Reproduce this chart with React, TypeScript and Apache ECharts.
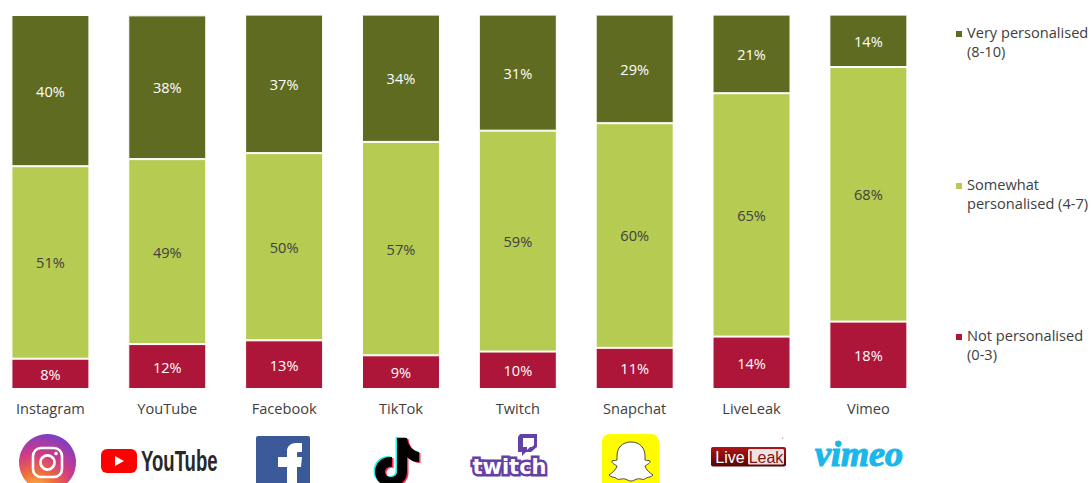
import React, { useEffect, useRef } from "react";
import * as echarts from "echarts";

const categories = ["Instagram", "YouTube", "Facebook", "TikTok", "Twitch", "Snapchat", "LiveLeak", "Vimeo"];
const notPersonalised = [8.1, 12, 13, 9, 10, 11, 14, 18];
const somewhatPersonalised = [51.4, 49.4, 50, 57, 59, 60, 65, 68];
const veryPersonalised = [40.4, 38.4, 37, 34, 31, 29, 21, 14];
const seriesNames = ["Not personalised\n(0-3)", "Somewhat\npersonalised (4-7)", "Very personalised\n(8-10)"];
const seriesColors = ["#AD1539", "#B5CB52", "#5F6B21"];

const FONT = "'Open Sans', sans-serif";

const shapes: Record<string, string> = {
  tiktokNote:
    "M397 438 H407 C408 446 413 451 419 452 V462 C414 462 410 460 407 457 V472 C407 480 400 487 391 487 C382 487 375 480 375 472 C375 463 382 456 392 457 V467 C388 466 385 469 385 472 C385 475 388 477 391 477 C394 477 397 475 397 472 Z",
  fbLetter:
    "M287 484 V467 H278 V457 H287 V451 C287 446 291 443 296 443 H302 V452 H298 C297 452 297 453 297 454 V457 H302 L301 467 H297 V484 Z",
  snapGhost:
    "M631 442 C640 442 645 448 645 456 L645 460 C647 461 649 460 650 461 C651 463 646 465 645 466 C646 470 650 473 653 475 C652 477 648 477 646 478 C644 481 641 478 637 479 C634 480 633 481 631 481 C629 481 628 480 625 479 C621 478 618 481 616 478 C614 477 610 477 609 475 C612 473 616 470 617 466 C616 465 611 463 612 461 C613 460 615 461 617 460 L617 456 C617 448 622 442 631 442 Z",
  twitchBubble:
    "M520 434 H537 V447 L531 452 H526 L522 456 V452 H518 V437 Z M523 438 V447 H527 V450 L530 447 H532 L534 445 V438 Z",
};
Object.entries(shapes).forEach(([name, d]) => {
  echarts.graphic.registerShape(name, (echarts.graphic as any).extendPath(d, {}));
});

const legendIcon = "path://M0 0h0M0 8H8V16H0ZM0 38h0";

function logos(): any[] {
  const g: any = echarts.graphic;
  return [
    {
      type: "circle",
      shape: { cx: 47.5, cy: 462.5, r: 28.5 },
      style: {
        fill: new g.RadialGradient(0.3, 1, 1.1, [
          { offset: 0, color: "#FFC24F" },
          { offset: 0.3, color: "#F0703A" },
          { offset: 0.6, color: "#CF3A86" },
          { offset: 1, color: "#6E3FD0" },
        ]),
      },
    },
    { type: "rect", shape: { x: 33, y: 448, width: 29, height: 29, r: 8 }, style: { fill: "none", stroke: "#fff", lineWidth: 2.6 } },
    { type: "circle", shape: { cx: 47.5, cy: 462.5, r: 7 }, style: { fill: "none", stroke: "#fff", lineWidth: 2.6 } },
    { type: "circle", shape: { cx: 56, cy: 453.5, r: 1.8 }, style: { fill: "#fff" } },

    { type: "rect", shape: { x: 101, y: 449, width: 36, height: 24, r: 6 }, style: { fill: "#FF0000" } },
    { type: "polygon", shape: { points: [[115, 456], [115, 466], [124, 461]] }, style: { fill: "#fff" } },
    {
      type: "text", x: 141, y: 461, scaleX: 0.64,
      style: { text: "YouTube", fill: "#282828", font: "bold 29px 'Liberation Sans', sans-serif", textVerticalAlign: "middle" },
    },

    { type: "rect", shape: { x: 256, y: 436, width: 54, height: 60, r: 2 }, style: { fill: "#3B5998" } },
    { type: "fbLetter", style: { fill: "#fff" } },

    { type: "tiktokNote", x: -1.5, y: -1, style: { fill: "#25F4EE" } },
    { type: "tiktokNote", x: 1.5, y: 1, style: { fill: "#FE2C55" } },
    { type: "tiktokNote", style: { fill: "#000" } },

    { type: "twitchBubble", style: { fill: "#6441A4" } },
    {
      type: "text", x: 509.5, y: 467,
      style: {
        text: "twitch", fill: "#fff", stroke: "#6441A4", lineWidth: 5,
        font: "bold 21px 'DejaVu Sans', sans-serif", textAlign: "center", textVerticalAlign: "middle",
      },
    },

    { type: "rect", shape: { x: 602, y: 434, width: 57, height: 60, r: 8 }, style: { fill: "#FFFC00" } },
    { type: "snapGhost", style: { fill: "#fff", stroke: "#222", lineWidth: 0.8 } },

    {
      type: "rect", shape: { x: 711, y: 447, width: 75, height: 19.5, r: 2 },
      style: {
        fill: new g.LinearGradient(0, 0, 0, 1, [
          { offset: 0, color: "#B01414" },
          { offset: 1, color: "#560404" },
        ]),
      },
    },
    { type: "rect", shape: { x: 748, y: 449, width: 36, height: 15.5, r: 1.5 }, style: { fill: "#EEE3E3" } },
    {
      type: "text", x: 730, y: 457,
      style: { text: "Live", fill: "#fff", font: "16px 'Liberation Sans', sans-serif", textAlign: "center", textVerticalAlign: "middle" },
    },
    {
      type: "text", x: 766, y: 457,
      style: { text: "Leak", fill: "#8A1010", font: "16px 'Liberation Sans', sans-serif", textAlign: "center", textVerticalAlign: "middle" },
    },
    { type: "circle", shape: { cx: 782.5, cy: 438, r: 0.7 }, style: { fill: "#E88AA8" } },

    {
      type: "text", x: 859, y: 454,
      style: {
        text: "vimeo", fill: "#1AB7EA", stroke: "#1AB7EA", lineWidth: 1.2,
        font: "italic bold 36px 'Liberation Serif', serif",
        textAlign: "center", textVerticalAlign: "middle",
      },
    },
  ];
}

function buildOption(): any {
  const values = [notPersonalised, somewhatPersonalised, veryPersonalised];
  const labelColors = ["#fff", "#404040", "#fff"];
  return {
    animation: false,
    grid: { left: -8, top: 14.6, width: 934.8, height: 374.4, outerBoundsMode: "none" },
    xAxis: {
      type: "category",
      data: categories,
      axisLine: { show: false },
      axisTick: { show: false },
      axisLabel: { color: "#404040", fontFamily: FONT, fontSize: 14.6, margin: 11.5, interval: 0 },
    },
    yAxis: { type: "value", min: 0, max: 100, show: false, splitLine: { show: false } },
    legend: [2, 1, 0].map((i, k) => ({
      data: [seriesNames[i]],
      left: 954,
      top: [21, 173, 324][k],
      orient: "vertical",
      icon: legendIcon,
      itemWidth: 8,
      itemHeight: 38,
      itemGap: 0,
      padding: 0,
      selectedMode: false,
      textStyle: { color: "#404040", fontFamily: FONT, fontSize: 14.6, lineHeight: 19, padding: [0, 0, 0, -1] },
    })),
    series: values.map((data, i) => ({
      type: "bar",
      name: seriesNames[i],
      stack: "total",
      data,
      barWidth: 78,
      itemStyle: { color: seriesColors[i], borderColor: "#fff", borderWidth: 1 },
      label: {
        show: true,
        position: "inside",
        color: labelColors[i],
        fontFamily: FONT,
        fontSize: 14.6,
        formatter: (p: any) => `${Math.round(p.value)}%`,
      },
    })),
    graphic: { elements: logos() },
  };
}

export default function App() {
  const ref = useRef<HTMLDivElement>(null);
  useEffect(() => {
    document.body.style.margin = "0";
    const chart = echarts.init(ref.current!, undefined, { renderer: "svg" });
    chart.setOption(buildOption());
    return () => chart.dispose();
  }, []);
  return <div ref={ref} style={{ width: 1092, height: 483, background: "#fff", overflow: "hidden" }} />;
}
